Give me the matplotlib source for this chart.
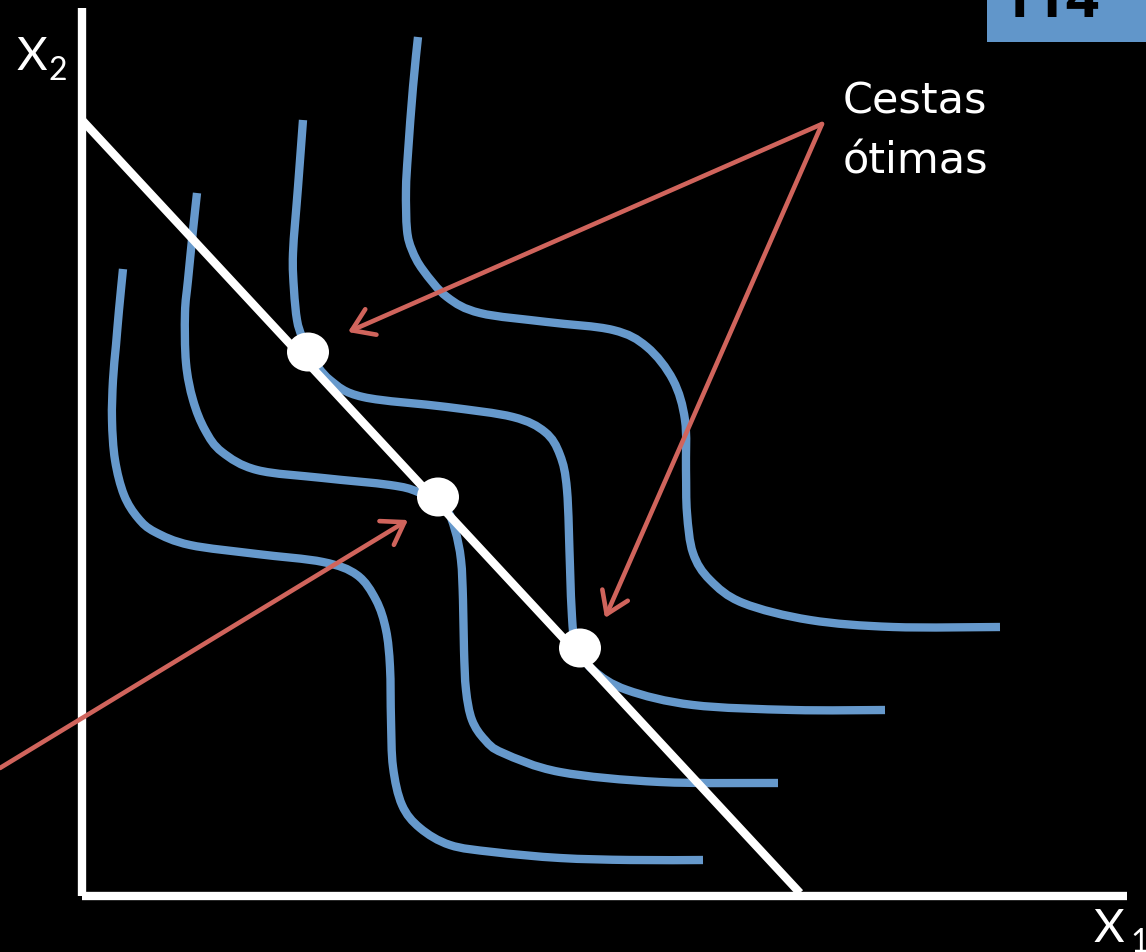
import matplotlib
matplotlib.use("Agg")
import numpy as np
import matplotlib.pyplot as plt
from matplotlib.patches import Ellipse, Rectangle, PathPatch
from matplotlib.path import Path

# chart units: origin at the corner of the axes, 1 unit = 1 px
curve_a_x = [41, 37, 34, 31, 30, 33, 42, 56, 73, 108, 175, 241, 275, 294, 304, 308, 309, 311, 320, 338, 368, 411, 478, 548, 621]
curve_a_y = [624, 583, 548, 513, 473, 433, 398, 375, 361, 348, 339, 331, 318, 293, 263, 226, 173, 126, 88, 65, 48, 41, 35, 33, 33]

curve_b_x = [115, 111, 106, 103, 104, 111, 123, 140, 175, 241, 308, 336, 363, 373, 379, 381, 382, 384, 390, 403, 421, 478, 578, 696]
curve_b_y = [700, 663, 613, 580, 530, 493, 463, 441, 423, 415, 408, 401, 385, 363, 333, 293, 243, 203, 173, 153, 140, 121, 111, 110]

curve_c_x = [221, 216, 211, 212, 215, 220, 228, 248, 281, 365, 431, 463, 478, 485, 488, 490, 494, 511, 545, 611, 711, 803]
curve_c_y = [773, 706, 640, 603, 573, 556, 538, 513, 496, 486, 476, 461, 438, 403, 326, 276, 248, 223, 203, 188, 183, 183]

curve_d_x = [336, 331, 326, 324, 325, 330, 341, 365, 398, 465, 531, 565, 591, 603, 604, 605, 611, 628, 661, 728, 811, 918]
curve_d_y = [856, 806, 740, 703, 663, 643, 623, 596, 580, 571, 563, 546, 513, 473, 423, 380, 340, 313, 290, 273, 266, 266]

budget_x = [0, 718]
budget_y = [773, 0]

optimal_x = [226, 356, 498]
optimal_y = [541, 396, 245]

label_lines = ["Cestas", "ótimas"]
label_origin = (740, 769)
arrow_targets = [(266, 561), (523, 275)]
extra_arrow = ((-82, 125), (326, 373))

slide_number = "114"

blue = "#6699CC"
red = "#D0645C"


def smooth_path(xs, ys):
    # catmull-rom through the traced points, handed to matplotlib as cubic beziers
    p = np.column_stack([xs, ys]).astype(float)
    p = np.vstack([p[0], p, p[-1]])
    verts = [p[1]]
    codes = [Path.MOVETO]
    for i in range(1, len(p) - 2):
        c1 = p[i] + (p[i + 1] - p[i - 1]) / 6
        c2 = p[i + 1] - (p[i + 2] - p[i]) / 6
        verts += [c1, c2, p[i + 1]]
        codes += [Path.CURVE4] * 3
    return Path(verts, codes)


fig = plt.figure(figsize=(11.46, 9.52), dpi=100, facecolor="black")
ax = fig.add_axes([0, 0, 1, 1])
ax.set_facecolor("black")
ax.set_xlim(-82, 1064)
ax.set_ylim(-59, 893)
ax.axis("off")

# axes
ax.plot([0, 0], [-3, 885], color="white", lw=6, solid_capstyle="butt")
ax.plot([0, 1045], [-3, -3], color="white", lw=6, solid_capstyle="butt")

for cx, cy in [(curve_a_x, curve_a_y), (curve_b_x, curve_b_y),
               (curve_c_x, curve_c_y), (curve_d_x, curve_d_y)]:
    ax.add_patch(PathPatch(smooth_path(cx, cy), fill=False, edgecolor=blue, lw=6,
                           capstyle="butt", joinstyle="round", zorder=2))

ax.plot(budget_x, budget_y, color="white", lw=6, solid_capstyle="butt", zorder=3)

arrow_style = dict(arrowstyle="->,head_length=0.75,head_width=0.5",
                   color=red, lw=3.3, shrinkA=0, shrinkB=0, mutation_scale=20)
for tx, ty in arrow_targets:
    ax.annotate("", xy=(tx, ty), xytext=label_origin, arrowprops=arrow_style, zorder=4)
ax.annotate("", xy=extra_arrow[1], xytext=extra_arrow[0], arrowprops=arrow_style,
            zorder=4, annotation_clip=False)

for ox, oy in zip(optimal_x, optimal_y):
    ax.add_patch(Ellipse((ox, oy), 42, 39, facecolor="white", edgecolor="none", zorder=5))

ax.text(761, 779, label_lines[0], color="white", fontsize=31, family="DejaVu Sans",
        ha="left", va="baseline")
ax.text(761, 720, label_lines[1], color="white", fontsize=31, family="DejaVu Sans",
        ha="left", va="baseline")

ax.text(-65, 823, "X", color="white", fontsize=34, family="Lato",
        ha="left", va="baseline")
ax.text(-33, 813, "2", color="white", fontsize=23, family="Lato",
        ha="left", va="baseline")
ax.text(1012, -49, "X", color="white", fontsize=34, family="Lato",
        ha="left", va="baseline")
ax.text(1048, -59, "1", color="white", fontsize=23, family="Lato",
        ha="left", va="baseline")

ax.add_patch(Rectangle((905, 851), 170, 50, facecolor="#6196CA", edgecolor="none", zorder=6))
ax.text(918, 876, slide_number, color="black", fontsize=42, fontweight="bold",
        family="Open Sans", ha="left", va="baseline", zorder=7)

fig.savefig("out.png", dpi=100, facecolor="black")
